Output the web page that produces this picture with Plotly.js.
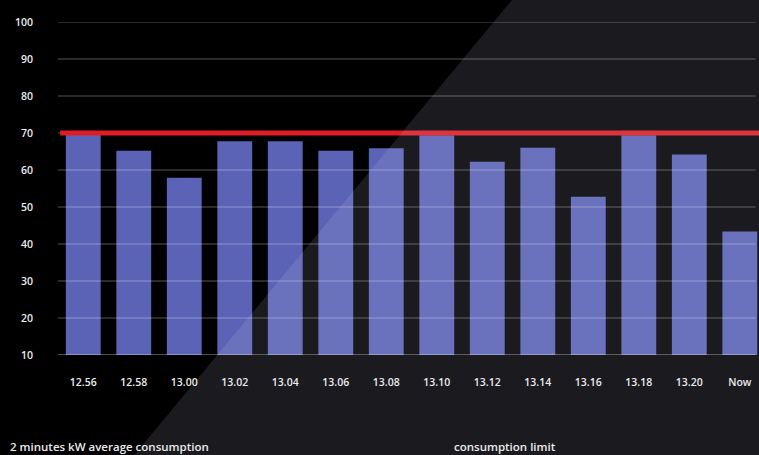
<!DOCTYPE html>
<html>
<head>
<meta charset="utf-8">
<script src="https://cdn.plot.ly/plotly-3.0.1.min.js"></script>
<style>
  html, body { margin: 0; padding: 0; background: #000; }
  #chart { width: 759px; height: 455px; }
</style>
</head>
<body>
<div id="chart"></div>
<script>
// ---- data ----
const categories = ["12.56", "12.58", "13.00", "13.02", "13.04", "13.06", "13.08",
                    "13.10", "13.12", "13.14", "13.16", "13.18", "13.20", "Now"];
const consumption = [69.5, 65.2, 57.9, 67.8, 67.8, 65.2, 65.9,
                     69.4, 62.2, 66.0, 52.8, 69.4, 64.2, 43.4];
const limit = 70;
const yTicks = [10, 20, 30, 40, 50, 60, 70, 80, 90, 100];
const seriesName = "2 minutes kW average consumption";
const limitName = "consumption limit";

const FONT = "'Open Sans', 'Noto Sans', sans-serif";

const traces = [{
  type: "bar",
  x: categories,
  y: consumption,
  name: seriesName,
  marker: { color: "#5a63b6" },
  hoverinfo: "x+y"
}];

const shapes = [];
// grid lines drawn above bars (as in the reference)
yTicks.forEach(function (t) {
  shapes.push({
    type: "line", xref: "paper", yref: "y",
    x0: 0, x1: 0.995, y0: t, y1: t,
    line: { color: t === yTicks[0] ? "rgba(255,255,255,0.6)" : "rgba(255,255,255,0.33)", width: 1 },
    layer: "above"
  });
});
// consumption limit line
shapes.push({
  type: "line", xref: "paper", yref: "y",
  x0: 0.003, x1: 1, y0: limit, y1: limit,
  line: { color: "#e01c24", width: 5 },
  layer: "above"
});
// diagonal lighter background overlay
shapes.push({
  type: "path", xref: "paper", yref: "paper",
  path: "M 0.649,1.07 L 0.105,-0.31 L 1.02,-0.31 L 1.02,1.07 Z",
  fillcolor: "rgba(225,225,255,0.12)",
  line: { width: 0 },
  layer: "above"
});

const tickFont = { family: FONT, size: 10.5, color: "#ececec", weight: 600 };

const layout = {
  width: 759, height: 455,
  margin: { l: 58, r: 0, t: 22, b: 100 },
  paper_bgcolor: "#000000",
  plot_bgcolor: "rgba(0,0,0,0)",
  showlegend: false,
  bargap: 0.31,
  font: { family: FONT, color: "#ececec", size: 10.5 },
  xaxis: {
    type: "category",
    range: [-0.5, 13.38],
    showgrid: false, zeroline: false, showline: false,
    ticks: "",
    ticklabelstandoff: 19,
    tickfont: tickFont,
    fixedrange: true
  },
  yaxis: {
    range: [10, 100],
    tickvals: yTicks,
    showgrid: false, zeroline: false, showline: false,
    ticks: "",
    ticklabelstandoff: 24,
    tickfont: tickFont,
    fixedrange: true
  },
  shapes: shapes,
  annotations: [
    {
      xref: "paper", yref: "paper", x: -0.072, y: -0.276,
      xanchor: "left", yanchor: "middle", showarrow: false,
      text: seriesName, font: { family: FONT, size: 11.5, color: "#ececec", weight: 600 }
    },
    {
      xref: "paper", yref: "paper", x: 0.562, y: -0.276,
      xanchor: "left", yanchor: "middle", showarrow: false,
      text: limitName, font: { family: FONT, size: 11.5, color: "#ececec", weight: 600 }
    }
  ]
};

Plotly.newPlot("chart", traces, layout, { displayModeBar: false, staticPlot: true });
</script>
</body>
</html>
